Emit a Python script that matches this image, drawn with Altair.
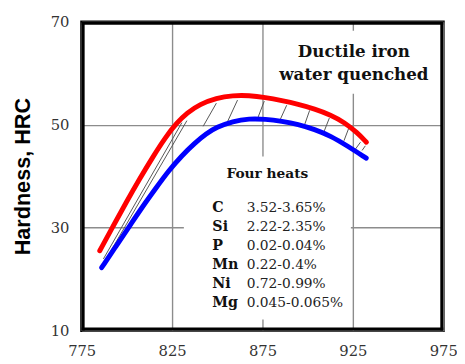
import altair as alt
import pandas as pd

# Upper curve (red)
red_x = [785.0, 792.4, 799.6, 806.9, 814.1, 821.4, 827.7, 833.2, 840.4, 849.5,
         858.6, 867.6, 876.6, 885.7, 894.7, 903.8, 912.9, 920.1, 927.4, 932.5]
red_y = [25.5, 30.3, 34.9, 39.4, 43.6, 47.6, 50.4, 52.3, 54.0, 55.2,
         55.7, 55.7, 55.3, 54.7, 54.0, 53.1, 51.9, 50.5, 48.5, 46.6]

# Lower curve (blue)
blue_x = [786.0, 794.2, 801.5, 808.7, 815.9, 823.2, 830.4, 837.7, 844.0, 849.5,
          858.6, 867.6, 876.6, 885.7, 894.7, 903.8, 912.9, 921.9, 932.4]
blue_y = [22.2, 26.5, 30.3, 34.1, 37.6, 41.1, 44.0, 46.5, 48.3, 49.5,
          50.7, 51.2, 51.1, 50.7, 50.1, 49.1, 47.8, 45.9, 43.5]

# Hatch segments between the two curves
hatch_x1 = [787.0, 789.7, 842.2, 855.8, 872.5, 884.8, 898.4, 909.2, 920.1, 926.5, 930.1]
hatch_y1 = [23.9, 24.6, 49.7, 50.7, 51.4, 51.0, 50.1, 48.8, 46.9, 45.3, 45.0]
hatch_x2 = [830.4, 833.2, 849.5, 861.2, 876.0, 888.4, 901.1, 912.0, 922.8, 929.2, 931.9]
hatch_y2 = [50.4, 50.8, 54.2, 54.8, 54.6, 53.8, 52.8, 51.3, 49.4, 46.6, 45.9]

x_ticks = [775, 825, 875, 925, 975]
y_ticks = [10, 30, 50, 70]

title_lines = ["Ductile iron", "water quenched"]
box_title = "Four heats"
elements = ["C", "Si", "P", "Mn", "Ni", "Mg"]
ranges = ["3.52-3.65%", "2.22-2.35%", "0.02-0.04%", "0.22-0.4%", "0.72-0.99%", "0.045-0.065%"]

red = pd.DataFrame({"T": red_x, "HRC": red_y})
blue = pd.DataFrame({"T": blue_x, "HRC": blue_y})
hatch = pd.DataFrame({"x1": hatch_x1, "y1": hatch_y1, "x2": hatch_x2, "y2": hatch_y2})
one = pd.DataFrame({"k": [0]})

SERIF = "DejaVu Serif"
SANS = "Liberation Sans"

W, H = 368, 314

xs = alt.Scale(domain=[775, 975], nice=False, zero=False)
ys = alt.Scale(domain=[10, 70], nice=False, zero=False)

axis_common = dict(
    grid=True, gridColor="#8c8c8c", gridWidth=1.4, domain=False, ticks=False,
    labelFont=SERIF, labelFontSize=15, labelColor="#333333",
    labelOverlap=False, labelFlush=False,
)

x_axis = alt.Axis(values=x_ticks, title=None, labelPadding=14, **axis_common)
y_axis = alt.Axis(values=y_ticks, title="Hardness, HRC", labelPadding=13,
                  titleFont=SANS, titleFontSize=22, titleFontWeight="bold",
                  titleColor="#000000", titlePadding=16, **axis_common)


def bar(x0, x1, y0, y1):
    return alt.Chart(one).mark_rect(color="#000000").encode(
        x=alt.value(x0), x2=alt.value(x1), y=alt.value(y0), y2=alt.value(y1))


# frame bars, slightly inside the plot edges
frame_layers = [
    bar(0, 3, 0, H),
    bar(W - 3, W, 0, H),
    bar(0, W, 0, 3),
    bar(0, W, H - 3, H),
]

base_axes = alt.Chart(red).mark_line(opacity=0).encode(
    x=alt.X("T:Q", scale=xs, axis=x_axis),
    y=alt.Y("HRC:Q", scale=ys, axis=y_axis),
)

white_title = alt.Chart(one).mark_rect(color="white").encode(
    x=alt.value(207), x2=alt.value(352), y=alt.value(9), y2=alt.value(73)
)
white_box = alt.Chart(one).mark_rect(color="white").encode(
    x=alt.value(104), x2=alt.value(274), y=alt.value(137), y2=alt.value(303)
)

hatch_layer = alt.Chart(hatch).mark_rule(color="#555555", strokeWidth=1).encode(
    x=alt.X("x1:Q", scale=xs), y=alt.Y("y1:Q", scale=ys),
    x2="x2:Q", y2="y2:Q",
)

red_line = alt.Chart(red).mark_line(color="#ff0000", strokeWidth=5, interpolate="basis",
                                    strokeCap="round").encode(
    x=alt.X("T:Q", scale=xs), y=alt.Y("HRC:Q", scale=ys)
)
blue_line = alt.Chart(blue).mark_line(color="#0000ff", strokeWidth=5, interpolate="basis",
                                      strokeCap="round").encode(
    x=alt.X("T:Q", scale=xs), y=alt.Y("HRC:Q", scale=ys)
)

title_text = alt.Chart(pd.DataFrame({"t": ["\n".join(title_lines)]})).mark_text(
    font=SERIF, fontSize=17, fontWeight="bold", color="#111111",
    align="center", baseline="alphabetic", lineBreak="\n", lineHeight=23,
).encode(text="t:N", x=alt.value(277), y=alt.value(36))

box_title_text = alt.Chart(pd.DataFrame({"t": [box_title]})).mark_text(
    font=SERIF, fontSize=14, fontWeight="bold", color="#111111",
    align="center", baseline="alphabetic",
).encode(text="t:N", x=alt.value(189), y=alt.value(159))

elem_text = alt.Chart(pd.DataFrame({"t": ["\n".join(elements)]})).mark_text(
    font=SERIF, fontSize=14.5, fontWeight="bold", color="#111111",
    align="left", baseline="alphabetic", lineBreak="\n", lineHeight=19.4,
).encode(text="t:N", x=alt.value(133), y=alt.value(193.5))

range_text = alt.Chart(pd.DataFrame({"t": ["\n".join(ranges)]})).mark_text(
    font=SERIF, fontSize=14, color="#222222",
    align="left", baseline="alphabetic", lineBreak="\n", lineHeight=19.4,
).encode(text="t:N", x=alt.value(168), y=alt.value(193.5))

chart = alt.layer(
    *frame_layers, base_axes, white_title, white_box, hatch_layer, red_line, blue_line,
    title_text, box_title_text, elem_text, range_text,
).properties(
    width=W, height=H,
    background="white",
    autosize=alt.AutoSizeParams(type="none"),
    padding={"left": 75, "top": 11, "right": 14, "bottom": 31},
).configure_view(stroke="#000000", strokeWidth=3)

chart.save("out.html", embed_options={"renderer": "svg", "actions": False})
